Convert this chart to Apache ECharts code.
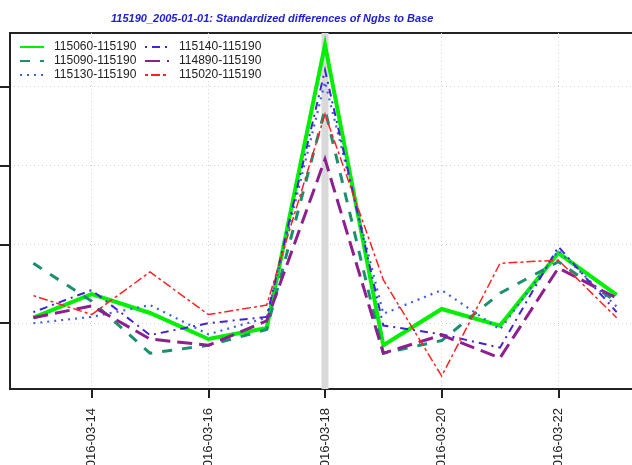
<!DOCTYPE html>
<html>
<head>
<meta charset="utf-8">
<script src="https://cdn.jsdelivr.net/npm/echarts@6/dist/echarts.min.js"></script>
<style>
html,body{margin:0;padding:0;background:#fff;overflow:hidden;width:632px;height:465px;}
#c{width:640px;height:465px;}
</style>
</head>
<body>
<div id="c"></div>
<script>
// ---- data ----
const dates = ['2016-03-13','2016-03-14','2016-03-15','2016-03-16','2016-03-17','2016-03-18','2016-03-19','2016-03-20','2016-03-21','2016-03-22','2016-03-23'];
const tickIdx = [1, 3, 5, 7, 9];
const yTicks = [0, 1, 2, 3];
const highlightIdx = 5;
const names = ['115060-115190','115090-115190','115130-115190','115140-115190','114890-115190','115020-115190'];
const s115060 = [0.07, 0.37, 0.13, -0.20, -0.06, 3.53, -0.28, 0.18, -0.03, 0.89, 0.36];
const s115090 = [0.76, 0.28, -0.38, -0.28, -0.08, 2.71, -0.38, -0.22, 0.38, 0.78, 0.27];
const s115130 = [0.00, 0.08, 0.23, -0.14, 0.07, 3.06, 0.12, 0.42, -0.08, 0.92, 0.21];
const s115140 = [0.14, 0.42, -0.15, 0.00, 0.08, 3.21, -0.03, -0.14, -0.31, 0.97, 0.14];
const s114890 = [0.07, 0.22, -0.20, -0.28, 0.03, 2.08, -0.38, -0.15, -0.44, 0.70, 0.32];
const s115020 = [0.35, 0.11, 0.65, 0.11, 0.23, 2.65, 0.55, -0.67, 0.76, 0.80, 0.07];

const values = [s115060, s115090, s115130, s115140, s114890, s115020];
const styles = [
  {color:'#00f000', width:4, type:'solid'},
  {color:'#1b8f6e', width:3, type:[10,10]},
  {color:'#3f5fe0', width:2.2, type:[2,5]},
  {color:'#4422d8', width:2, type:[2,5,8,5]},
  {color:'#8e1f8e', width:3, type:[15,7]},
  {color:'#ff2222', width:1.5, type:[3,3,9,3]}
];

const series = [{
  type:'line', data:[], silent:true, z:1,
  markArea:{silent:true, itemStyle:{color:'#d9d9d9'},
    data:[[{xAxis:highlightIdx-0.06},{xAxis:highlightIdx+0.06}]]}
}];
values.forEach((v,k)=>{
  series.push({
    name:names[k], type:'line', symbol:'none', z:3+k,
    data:v.map((y,i)=>[i,y]),
    lineStyle:{color:styles[k].color, width:styles[k].width, type:styles[k].type, cap:'butt', join:'miter'},
    itemStyle:{color:styles[k].color}
  });
});

const legendCommon = {
  orient:'vertical', itemWidth:24, itemHeight:14, itemGap:0, padding:0,
  itemStyle:{opacity:0},
  textStyle:{fontFamily:'Liberation Sans', fontSize:12, color:'#222', padding:[0,0,0,5], lineHeight:14},
  selectedMode:false
};

const chart = echarts.init(document.getElementById('c'), null, {renderer:'canvas'});
chart.setOption({
  animation:false,
  backgroundColor:'#fff',
  title:{
    text:'115190_2005-01-01: Standardized differences of Ngbs to Base',
    left:106, top:8,
    textStyle:{fontFamily:'Liberation Sans', fontSize:11, fontStyle:'italic', fontWeight:'bold', color:'#2020d0'}
  },
  legend:[
    Object.assign({left:19, top:40, data:names.slice(0,3)}, legendCommon),
    Object.assign({left:144, top:40, data:names.slice(3,6)}, legendCommon)
  ],
  grid:{left:10, top:33, right:0, bottom:76, show:true, borderColor:'#222', borderWidth:2, backgroundColor:'transparent', containLabel:false, outerBoundsMode:'none'},
  xAxis:{
    type:'value', min:-0.4, max:10.4,
    axisLine:{show:true, onZero:false, lineStyle:{color:'#222', width:2}},
    axisTick:{show:true, length:9, lineStyle:{color:'#222', width:2}, customValues:tickIdx},
    axisLabel:{show:true, customValues:tickIdx, rotate:90, margin:19, fontFamily:'Liberation Sans', fontSize:13, color:'#222',
      formatter:(v)=>dates[Math.round(v)]},
    splitLine:{show:true, lineStyle:{color:'#d0d0d0', width:1, type:[1,3]}}
  },
  yAxis:{
    type:'value', min:-0.834, max:3.68,
    axisLine:{show:true, onZero:false, lineStyle:{color:'#222', width:2}},
    axisTick:{show:true, length:10, lineStyle:{color:'#222', width:2}, customValues:yTicks},
    axisLabel:{show:false, customValues:yTicks},
    splitLine:{show:true, lineStyle:{color:'#d0d0d0', width:1, type:[1,3]}}
  },
  series:series
});
</script>
</body>
</html>
